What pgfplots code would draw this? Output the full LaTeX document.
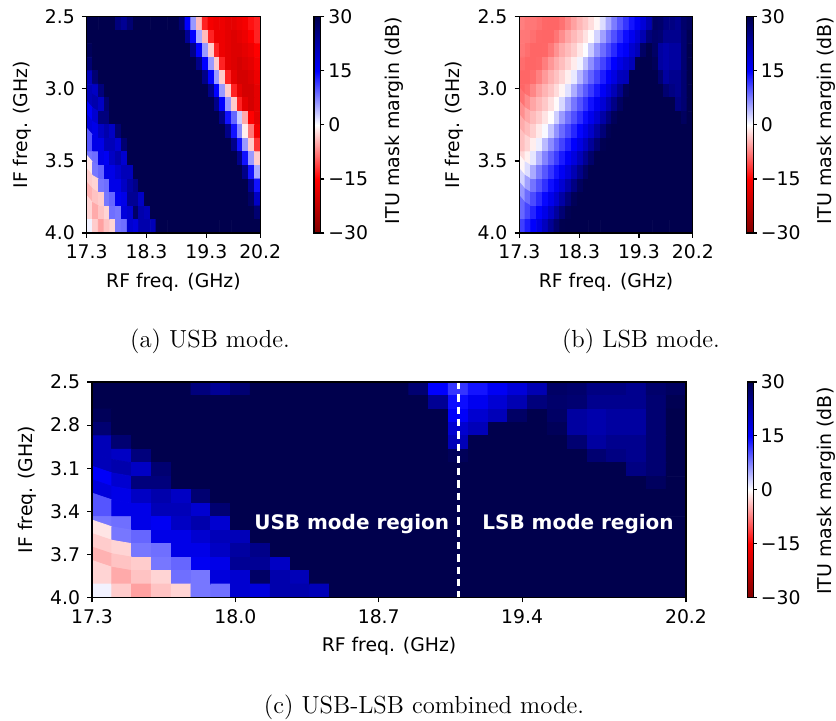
\documentclass[border=0pt]{standalone}
\usepackage{fontspec}
\usepackage{pgfplots}
\usepackage{pgfplotstable}
\pgfplotsset{compat=1.18}
\newfontfamily\dv{DejaVu Sans}[BoldFont={DejaVu Sans Bold}]

% USB mode: rows = IF 2.5..4.0 (top to bottom), 30 values per row = RF 17.3..20.2
\pgfplotstableread[row sep=\\]{
v\\
30\\30\\30\\30\\30\\26\\24\\27\\30\\30\\
30\\30\\30\\30\\30\\30\\27\\15\\6\\-4\\
-13\\-16\\-17\\-17\\-18\\-18\\-17\\-16\\-14\\-13\\
30\\30\\30\\30\\30\\30\\30\\30\\30\\30\\
30\\30\\30\\30\\30\\30\\30\\24\\15\\5\\
-4\\-13\\-17\\-17\\-18\\-19\\-18\\-17\\-15\\-13\\
29\\30\\30\\30\\30\\30\\30\\30\\30\\30\\
30\\30\\30\\30\\30\\30\\30\\30\\25\\15\\
6\\-3\\-13\\-17\\-18\\-19\\-19\\-18\\-17\\-15\\
27\\30\\30\\30\\30\\30\\30\\30\\30\\30\\
30\\30\\30\\30\\30\\30\\30\\30\\30\\25\\
15\\6\\-3\\-13\\-18\\-19\\-20\\-19\\-18\\-16\\
21\\27\\30\\30\\30\\30\\30\\30\\30\\30\\
30\\30\\30\\30\\30\\30\\30\\30\\30\\30\\
25\\15\\6\\-3\\-13\\-18\\-20\\-20\\-19\\-17\\
21\\20\\26\\30\\30\\30\\30\\30\\30\\30\\
30\\30\\30\\30\\30\\30\\30\\30\\30\\30\\
30\\25\\15\\6\\-3\\-13\\-18\\-20\\-20\\-18\\
21\\22\\20\\27\\30\\30\\30\\30\\30\\30\\
30\\30\\30\\30\\30\\30\\30\\30\\30\\30\\
30\\30\\25\\15\\6\\-3\\-13\\-18\\-20\\-18\\
15.5\\19\\26\\26\\30\\30\\30\\30\\30\\30\\
30\\30\\30\\30\\30\\30\\30\\30\\30\\30\\
30\\30\\30\\25\\14\\9\\3\\-5\\-15\\-18\\
18\\17\\20\\22\\20\\27\\30\\30\\30\\30\\
30\\30\\30\\30\\30\\30\\30\\30\\30\\30\\
30\\30\\30\\30\\25\\14\\7\\-1\\-8\\-16\\
10\\17\\17\\21\\21\\19\\27\\30\\30\\30\\
30\\30\\30\\30\\30\\30\\30\\30\\30\\30\\
30\\30\\30\\30\\30\\25\\14\\6\\-3\\-12\\
8\\8.5\\17\\16\\20\\22\\19\\30\\30\\30\\
30\\30\\30\\30\\30\\30\\30\\30\\30\\30\\
30\\30\\30\\30\\30\\30\\25\\14\\6\\-3\\
-1.5\\8\\9\\17\\17\\19\\21\\21\\30\\30\\
30\\30\\30\\30\\30\\30\\30\\30\\30\\30\\
30\\30\\30\\30\\30\\30\\30\\25\\14\\5\\
-3\\-2.5\\8\\8.5\\17\\17\\20\\23\\25\\30\\
30\\30\\30\\30\\30\\30\\30\\30\\30\\30\\
30\\30\\30\\30\\30\\30\\30\\30\\24\\14\\
-4.5\\-3.5\\-3\\8\\9\\16\\17\\24\\24\\20\\
30\\30\\30\\30\\30\\30\\30\\30\\30\\30\\
30\\30\\30\\30\\30\\30\\30\\30\\28\\20\\
-2.5\\-5\\-3.5\\-2.5\\8.5\\8\\18\\19\\28\\22\\
21\\30\\30\\30\\30\\30\\30\\30\\30\\30\\
30\\30\\30\\30\\30\\30\\30\\30\\30\\27\\
0.8\\-3\\-5.5\\-3.5\\-2.5\\8\\8.5\\19\\18\\22\\
22\\21\\30\\30\\30\\30\\30\\30\\30\\30\\
30\\30\\30\\30\\30\\30\\30\\30\\30\\30\\
}\usbtab

% LSB mode
\pgfplotstableread[row sep=\\]{
v\\
-7.5\\-8\\-8\\-8.4\\-8.9\\-9\\-9\\-8.3\\-7\\-5.5\\
-4.3\\-3.3\\-2\\-0.5\\2\\5\\7.7\\9.9\\11.9\\13.9\\
15.9\\18.3\\21.5\\28\\27.5\\25.5\\25.5\\24.5\\27.5\\28.5\\
-7.9\\-8\\-8.4\\-8.9\\-9\\-9\\-8.1\\-6.7\\-5.2\\-4.1\\
-3.1\\-1.7\\-0.2\\2.6\\5.6\\8.2\\10.3\\12.3\\14.3\\16.3\\
18.7\\21.5\\26\\27.5\\27\\24.5\\24.5\\24.5\\27\\29.5\\
-8\\-8.5\\-9\\-9\\-8.9\\-7.9\\-6.4\\-4.9\\-3.9\\-2.9\\
-1.4\\0.2\\3.2\\6.2\\8.6\\10.6\\12.6\\14.6\\15.5\\19\\
21\\28\\30\\28\\23\\22\\23\\23\\27\\30\\
-8.6\\-9\\-9\\-8.8\\-7.6\\-6.1\\-4.8\\-3.8\\-2.6\\-1.1\\
0.7\\3.7\\6.6\\9\\11\\13\\15\\17.1\\19\\21\\
30\\30\\30\\29\\23\\22\\23\\23\\27\\30\\
-9\\-9\\-8.6\\-7.4\\-5.9\\-4.6\\-3.6\\-2.4\\-0.9\\1.3\\
4.3\\7\\9.3\\11.3\\13.3\\15.3\\17.5\\20.5\\21\\30\\
30\\30\\30\\30\\27\\23\\24.5\\24.5\\27\\30\\
-9\\-8.4\\-7.1\\-5.6\\-4.4\\-3.4\\-2.1\\-0.6\\1.8\\4.8\\
7.5\\9.7\\11.7\\13.7\\15.7\\18\\21.1\\24.6\\29\\30\\
30\\30\\30\\30\\30\\27\\25.5\\24.5\\27\\30\\
-8.2\\-6.8\\-5.3\\-4.2\\-3.2\\-1.8\\-0.3\\2.3\\5.3\\8\\
10.1\\12.1\\14.1\\16.1\\18.5\\21.7\\25.2\\28.3\\30\\30\\
30\\30\\30\\30\\30\\30\\30\\25.5\\27\\30\\
-6.6\\-5.1\\-4\\-3\\-1.6\\-0.1\\2.9\\5.9\\8.4\\10.4\\
12.4\\14.4\\16.4\\18.9\\22.4\\25.9\\28.9\\30\\30\\30\\
30\\30\\30\\30\\30\\30\\30\\30\\28.5\\30\\
-4.9\\-3.9\\-2.8\\-1.3\\0.4\\3.4\\6.4\\8.8\\10.8\\12.8\\
14.8\\16.9\\19.5\\23\\26.4\\29.3\\30\\30\\30\\30\\
30\\30\\30\\30\\30\\30\\30\\30\\30\\30\\
-3.7\\-2.5\\-1\\1\\4\\6.8\\9.1\\11.1\\13.1\\15.1\\
17.3\\20.1\\23.6\\27\\29.6\\30\\30\\30\\30\\30\\
30\\30\\30\\30\\30\\30\\30\\30\\30\\30\\
-2.3\\-0.8\\1.5\\4.5\\7.3\\9.5\\11.5\\13.5\\15.5\\17.8\\
20.8\\24.3\\27.5\\30\\30\\30\\30\\30\\30\\30\\
30\\30\\30\\30\\30\\30\\30\\30\\30\\30\\
-0.5\\2\\5\\7.7\\9.9\\11.9\\13.9\\15.9\\18.2\\21.4\\
24.9\\28\\30\\30\\30\\30\\30\\30\\30\\30\\
30\\30\\30\\30\\30\\30\\30\\30\\30\\30\\
2.6\\5.6\\8.2\\10.2\\12.2\\14.2\\16.2\\18.7\\22\\25.5\\
28.6\\30\\30\\30\\30\\30\\30\\30\\30\\30\\
30\\30\\30\\30\\30\\30\\30\\30\\30\\30\\
6.1\\8.6\\10.6\\12.6\\14.6\\16.6\\19.1\\22.6\\26.1\\29.1\\
30\\30\\30\\30\\30\\30\\30\\30\\30\\30\\
30\\30\\30\\30\\30\\30\\30\\30\\30\\30\\
8.9\\10.9\\12.9\\14.9\\17\\19.8\\23.3\\26.7\\29.4\\30\\
30\\30\\30\\30\\30\\30\\30\\30\\30\\30\\
30\\30\\30\\30\\30\\30\\30\\30\\30\\30\\
11.3\\13.3\\15.3\\17.5\\20.4\\23.9\\27.2\\29.8\\30\\30\\
30\\30\\30\\30\\30\\30\\30\\30\\30\\30\\
30\\30\\30\\30\\30\\30\\30\\30\\30\\30\\
}\lsbtab

% USB-LSB combined mode (USB values left of 19.1 GHz, LSB values from 19.1 GHz on)
\pgfplotstableread[row sep=\\]{
v\\
30\\30\\30\\30\\30\\26\\24\\27\\30\\30\\
30\\30\\30\\30\\30\\30\\27\\15\\11.9\\13.9\\
15.9\\18.3\\21.5\\28\\27.5\\25.5\\25.5\\24.5\\27.5\\28.5\\
30\\30\\30\\30\\30\\30\\30\\30\\30\\30\\
30\\30\\30\\30\\30\\30\\30\\24\\14.3\\16.3\\
18.7\\21.5\\26\\27.5\\27\\24.5\\24.5\\24.5\\27\\29.5\\
29\\30\\30\\30\\30\\30\\30\\30\\30\\30\\
30\\30\\30\\30\\30\\30\\30\\30\\15.5\\19\\
21\\28\\30\\28\\23\\22\\23\\23\\27\\30\\
27\\30\\30\\30\\30\\30\\30\\30\\30\\30\\
30\\30\\30\\30\\30\\30\\30\\30\\19\\21\\
30\\30\\30\\29\\23\\22\\23\\23\\27\\30\\
21\\27\\30\\30\\30\\30\\30\\30\\30\\30\\
30\\30\\30\\30\\30\\30\\30\\30\\21\\30\\
30\\30\\30\\30\\27\\23\\24.5\\24.5\\27\\30\\
21\\20\\26\\30\\30\\30\\30\\30\\30\\30\\
30\\30\\30\\30\\30\\30\\30\\30\\29\\30\\
30\\30\\30\\30\\30\\27\\25.5\\24.5\\27\\30\\
21\\22\\20\\27\\30\\30\\30\\30\\30\\30\\
30\\30\\30\\30\\30\\30\\30\\30\\30\\30\\
30\\30\\30\\30\\30\\30\\30\\25.5\\27\\30\\
15.5\\19\\26\\26\\30\\30\\30\\30\\30\\30\\
30\\30\\30\\30\\30\\30\\30\\30\\30\\30\\
30\\30\\30\\30\\30\\30\\30\\30\\28.5\\30\\
18\\17\\20\\22\\20\\27\\30\\30\\30\\30\\
30\\30\\30\\30\\30\\30\\30\\30\\30\\30\\
30\\30\\30\\30\\30\\30\\30\\30\\30\\30\\
10\\17\\17\\21\\21\\19\\27\\30\\30\\30\\
30\\30\\30\\30\\30\\30\\30\\30\\30\\30\\
30\\30\\30\\30\\30\\30\\30\\30\\30\\30\\
8\\8.5\\17\\16\\20\\22\\19\\30\\30\\30\\
30\\30\\30\\30\\30\\30\\30\\30\\30\\30\\
30\\30\\30\\30\\30\\30\\30\\30\\30\\30\\
-1.5\\8\\9\\17\\17\\19\\21\\21\\30\\30\\
30\\30\\30\\30\\30\\30\\30\\30\\30\\30\\
30\\30\\30\\30\\30\\30\\30\\30\\30\\30\\
-3\\-2.5\\8\\8.5\\17\\17\\20\\23\\25\\30\\
30\\30\\30\\30\\30\\30\\30\\30\\30\\30\\
30\\30\\30\\30\\30\\30\\30\\30\\30\\30\\
-4.5\\-3.5\\-3\\8\\9\\16\\17\\24\\24\\20\\
30\\30\\30\\30\\30\\30\\30\\30\\30\\30\\
30\\30\\30\\30\\30\\30\\30\\30\\30\\30\\
-2.5\\-5\\-3.5\\-2.5\\8.5\\8\\18\\19\\28\\22\\
21\\30\\30\\30\\30\\30\\30\\30\\30\\30\\
30\\30\\30\\30\\30\\30\\30\\30\\30\\30\\
0.8\\-3\\-5.5\\-3.5\\-2.5\\8\\8.5\\19\\18\\22\\
22\\21\\30\\30\\30\\30\\30\\30\\30\\30\\
30\\30\\30\\30\\30\\30\\30\\30\\30\\30\\
}\combtab

\newcommand{\tkfont}{\dv\fontsize{9.4}{11}\selectfont}
\newcommand{\cblabel}{\dv\fontsize{9.5}{11}\selectfont}
\newcommand{\rgfont}{\dv\bfseries\fontsize{10}{12}\selectfont}

\pgfplotsset{
  colormap={seismicr}{rgb=(0.5,0,0) rgb=(1,0,0) rgb=(1,1,1) rgb=(0,0,1) rgb=(0,0,0.3)},
  heat/.style={
    scale only axis, enlargelimits=false, axis on top, anchor=south west,
    xmin=17.3, xmax=20.2, ymin=2.5, ymax=4.0, y dir=reverse,
    point meta min=-30, point meta max=30,
    tick align=outside, major tick length=2.4pt,
    xtick pos=left, ytick pos=left,
    every tick/.style={black, line width=0.6pt},
    axis line style={line width=0.6pt},
    tick label style={font=\tkfont},
    label style={font=\tkfont},
    xlabel={RF freq. (GHz)}, ylabel={IF freq. (GHz)},
  },
  cb/.style={
    scale only axis, enlargelimits=false, axis on top, anchor=south west,
    xmin=0, xmax=1, ymin=-30, ymax=30, y dir=normal,
    point meta min=-30, point meta max=30,
    xtick=\empty,
    ytick={-30,-15,0,15,30}, yticklabels={−30,−15,0,15,30},
    ytick pos=right, yticklabel pos=right,
    tick align=outside, major tick length=1.8pt,
    every tick/.style={black, line width=0.6pt},
    axis line style={line width=0.6pt},
    yticklabel style={font=\tkfont, inner sep=1.8pt},
  },
  mat/.style={matrix plot*, mesh/cols=30, point meta=explicit},
  grad/.style={patch, patch type=rectangle, shader=interp, point meta=explicit},
}

\begin{document}
\begin{tikzpicture}
\path[use as bounding box] (0,0) rectangle (418pt,360pt);

% (a) USB
\begin{axis}[heat, at={(43.35pt,243.5pt)},
  width=86.75pt, height=108.15pt,
  xtick={17.3,18.3,19.3,20.2}, xticklabels={17.3,18.3,19.3,20.2},
  ytick={2.5,3.0,3.5,4.0}, yticklabels={2.5,3.0,3.5,4.0},
]
\addplot[mat] table[x index=0, y index=0, meta index=0, x expr={17.3+(mod(\coordindex,30)+0.5)*2.9/30}, y expr={2.5+(floor(\coordindex/30)+0.5)*1.5/16}] {\usbtab};
\end{axis}
\begin{axis}[cb, at={(157pt,243.5pt)}, width=3.35pt, height=108.15pt]
\addplot[grad] coordinates {
(0,-30) [-30] (1,-30) [-30] (1,-15) [-15] (0,-15) [-15]
(0,-15) [-15] (1,-15) [-15] (1,0) [0] (0,0) [0]
(0,0) [0] (1,0) [0] (1,15) [15] (0,15) [15]
(0,15) [15] (1,15) [15] (1,30) [30] (0,30) [30]};
\end{axis}
\node[rotate=90, anchor=north, inner sep=0pt, font=\cblabel] at (192.3pt,299.75pt) {ITU mask margin (dB)};

% (b) LSB
\begin{axis}[heat, at={(259.65pt,243.5pt)},
  width=86.75pt, height=108.15pt,
  xtick={17.3,18.3,19.3,20.2}, xticklabels={17.3,18.3,19.3,20.2},
  ytick={2.5,3.0,3.5,4.0}, yticklabels={2.5,3.0,3.5,4.0},
]
\addplot[mat] table[x index=0, y index=0, meta index=0, x expr={17.3+(mod(\coordindex,30)+0.5)*2.9/30}, y expr={2.5+(floor(\coordindex/30)+0.5)*1.5/16}] {\lsbtab};
\end{axis}
\begin{axis}[cb, at={(373.3pt,243.5pt)}, width=3.35pt, height=108.15pt]
\addplot[grad] coordinates {
(0,-30) [-30] (1,-30) [-30] (1,-15) [-15] (0,-15) [-15]
(0,-15) [-15] (1,-15) [-15] (1,0) [0] (0,0) [0]
(0,0) [0] (1,0) [0] (1,15) [15] (0,15) [15]
(0,15) [15] (1,15) [15] (1,30) [30] (0,30) [30]};
\end{axis}
\node[rotate=90, anchor=north, inner sep=0pt, font=\cblabel] at (408.2pt,299.75pt) {ITU mask margin (dB)};

% (c) combined
\begin{axis}[heat, at={(46pt,61.25pt)},
  width=297pt, height=107.75pt,
  xtick={17.3,18.0,18.7,19.4,20.2}, xticklabels={17.3,18.0,18.7,19.4,20.2},
  ytick={2.5,2.8,3.1,3.4,3.7,4.0}, yticklabels={2.5,2.8,3.1,3.4,3.7,4.0},
]
\addplot[mat] table[x index=0, y index=0, meta index=0, x expr={17.3+(mod(\coordindex,30)+0.5)*2.9/30}, y expr={2.5+(floor(\coordindex/30)+0.5)*1.5/16}] {\combtab};
\addplot[white, line width=1.35pt, dash pattern=on 3.65pt off 2.5pt, forget plot] coordinates {(19.09,2.5) (19.09,4.0)};
\node[text=white, font=\rgfont] at (axis cs:18.568,3.49) {USB mode region};
\node[text=white, font=\rgfont] at (axis cs:19.673,3.49) {LSB mode region};
\end{axis}
\begin{axis}[cb, at={(373.85pt,61.25pt)}, width=2.8pt, height=107.75pt]
\addplot[grad] coordinates {
(0,-30) [-30] (1,-30) [-30] (1,-15) [-15] (0,-15) [-15]
(0,-15) [-15] (1,-15) [-15] (1,0) [0] (0,0) [0]
(0,0) [0] (1,0) [0] (1,15) [15] (0,15) [15]
(0,15) [15] (1,15) [15] (1,30) [30] (0,30) [30]};
\end{axis}
\node[rotate=90, anchor=north, inner sep=0pt, font=\cblabel] at (408.4pt,114.4pt) {ITU mask margin (dB)};

% captions
\node[font=\rmfamily\fontsize{12.35}{15}\selectfont] at (105pt,189.5pt) {(a) USB mode.};
\node[font=\rmfamily\fontsize{12.35}{15}\selectfont] at (320.5pt,189.5pt) {(b) LSB mode.};
\node[font=\rmfamily\fontsize{12.35}{15}\selectfont] at (212pt,6.5pt) {(c) USB-LSB combined mode.};
\end{tikzpicture}
\end{document}
